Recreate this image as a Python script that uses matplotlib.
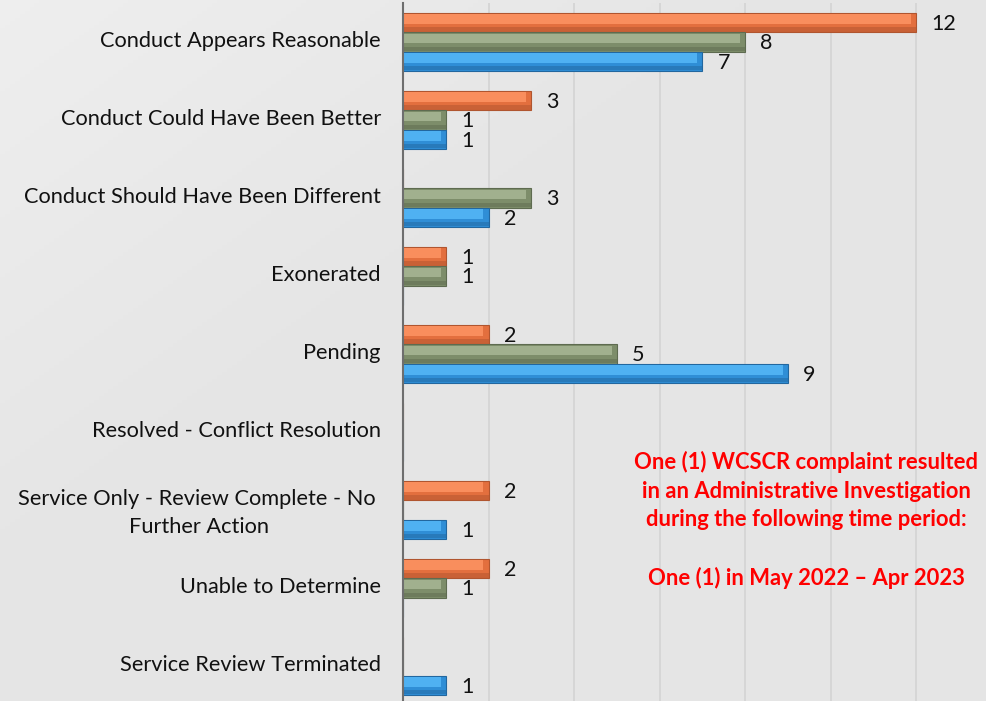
import numpy as np
import matplotlib.pyplot as plt
from matplotlib.transforms import ScaledTranslation

# categories and counts per series (top to bottom in each group)
categories = [
    "Conduct Appears Reasonable",
    "Conduct Could Have Been Better",
    "Conduct Should Have Been Different",
    "Exonerated",
    "Pending",
    "Resolved - Conflict Resolution",
    "Service Only - Review Complete - No \nFurther Action",
    "Unable to Determine",
    "Service Review Terminated",
]
orange_vals = [12, 3, 0, 1, 2, 0, 2, 2, 0]
green_vals = [8, 1, 3, 1, 5, 0, 0, 1, 0]
blue_vals = [7, 1, 2, 0, 9, 0, 1, 0, 1]

note = ("One (1) WCSCR complaint resulted\nin an Administrative Investigation\n"
        "during the following time period:\n\nOne (1) in May 2022 \u2013 Apr 2023")

plt.rcParams['font.family'] = ['Lato', 'DejaVu Sans']

fig = plt.figure(figsize=(9.86, 7.01), dpi=100)

# light grey gradient background (lighter at top left)
bg = fig.add_axes([0, 0, 1, 1], zorder=-10)
gx, gy = np.meshgrid(np.linspace(0, 1, 200), np.linspace(0, 1, 200))
level = 0.935 - 0.035 * np.clip((gx + gy) / 0.8, 0, 1)
bg.imshow(np.dstack([level] * 3), extent=[0, 1, 0, 1], aspect='auto', origin='upper')
bg.set_axis_off()

ax = fig.add_axes([403 / 986, -4 / 701, 583 / 986, 702 / 701])
ax.patch.set_alpha(0)

y = np.arange(len(categories))
h = 0.248
series = [
    (orange_vals, -h, '#E36F3E', '#F98E5D', '#B0552F'),
    (green_vals, 0, '#7D8D6A', '#A1B08E', '#5E6B50'),
    (blue_vals, h, '#2F8ED6', '#4FB1F2', '#22679F'),
]

for vals, off, mid, light, dark in series:
    vals = np.array(vals)
    ax.barh(y + off, vals, height=h, color=mid, edgecolor=dark, linewidth=0.8, zorder=3)
    # bevel look: light upper band, dark lower band
    ax.barh(y + off - h * 0.18, np.clip(vals - 0.15, 0, None), height=h * 0.5,
            left=0.03, color=light, linewidth=0, zorder=4)
    ax.barh(y + off + h * 0.36, vals, height=h * 0.22, color=dark, alpha=0.5,
            linewidth=0, zorder=4)
    for yi, v in zip(y, vals):
        if v > 0:
            ax.annotate(str(v), (v, yi + off), xytext=(11, -1), textcoords='offset points',
                        ha='left', va='center', fontsize=15.5, color='#111111', zorder=5)

ax.set_xlim(0, 583 / 42.75)
ax.set_ylim(len(categories) - 0.5, -0.5)
ax.set_xticks(np.arange(0, 13, 2))
ax.tick_params(axis='x', length=0, labelbottom=False)
ax.tick_params(axis='y', length=0, pad=16)
ax.set_yticks(y)
ax.set_yticklabels(categories, fontsize=15.7, color='#111111', multialignment='center',
                   linespacing=1.5)
lift = ScaledTranslation(0, 3 / 100, fig.dpi_scale_trans)
for lbl in ax.get_yticklabels():
    lbl.set_transform(lbl.get_transform() + lift)
ax.grid(axis='x', color='#D3D3D3', linewidth=1.2, zorder=0)
for s in ['top', 'right', 'bottom']:
    ax.spines[s].set_visible(False)
ax.spines['left'].set_color('#6E6E6E')
ax.spines['left'].set_linewidth(1.5)
ax.spines['left'].set_zorder(6)

fig.text(806 / 986, 1 - 520 / 701, note, ha='center', va='center', color='#FF0000',
         fontsize=15.8, fontweight='bold', linespacing=1.45)

fig.savefig('out.png', dpi=100)
